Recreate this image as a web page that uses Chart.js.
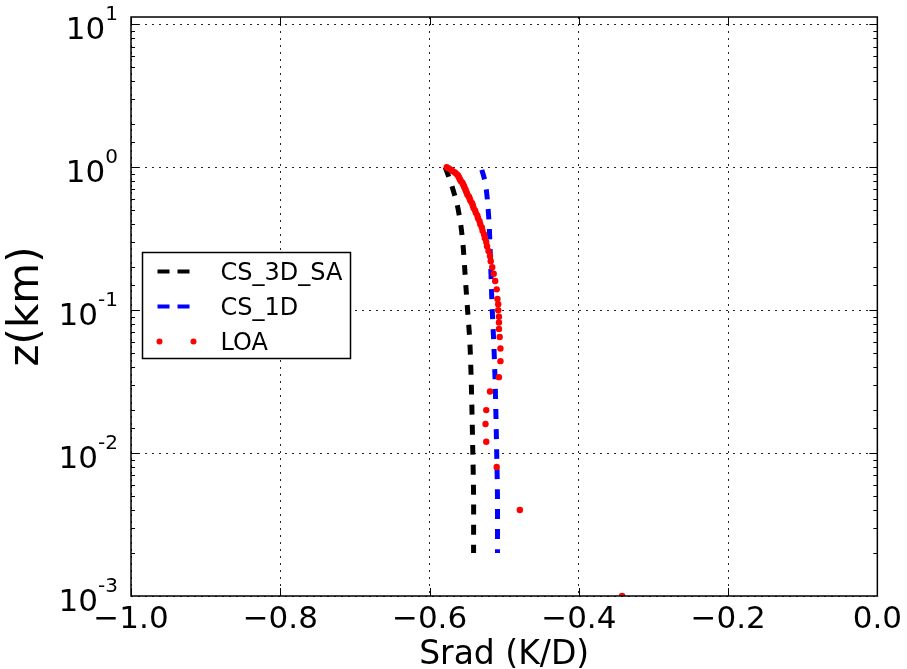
<!DOCTYPE html>
<html>
<head>
<meta charset="utf-8">
<script src="https://cdn.jsdelivr.net/npm/chart.js@4.4.0/dist/chart.umd.min.js"></script>
<style>
  html, body { margin: 0; padding: 0; background: #fff; }
  #wrap { width: 907px; height: 669px; }
</style>
</head>
<body>
<div id="wrap"><canvas id="srad" width="907" height="669"></canvas></div>
<script>
// heights (km) and Srad (K/D)
const zSA    = [1.00, 0.85, 0.71, 0.55, 0.39, 0.28, 0.20, 0.14, 0.10, 0.06, 0.03, 0.01, 0.005, 0.002];
const sradSA = [-0.579, -0.574, -0.569, -0.563, -0.558, -0.555, -0.553, -0.551, -0.549, -0.546, -0.544, -0.542, -0.541, -0.541];

const z1D    = [0.96, 0.85, 0.70, 0.55, 0.39, 0.28, 0.20, 0.14, 0.10, 0.06, 0.03, 0.01, 0.005, 0.002];
const srad1D = [-0.530, -0.527, -0.524, -0.522, -0.520, -0.519, -0.518, -0.517, -0.516, -0.514, -0.512, -0.510, -0.509, -0.509];

const zLOA = [1.00, 0.98, 0.96, 0.94, 0.92, 0.90, 0.88, 0.86, 0.84, 0.82,
              0.80, 0.78, 0.76, 0.74, 0.72, 0.70, 0.68, 0.66, 0.64, 0.62,
              0.60, 0.58, 0.56, 0.54, 0.52, 0.50, 0.48, 0.46, 0.44, 0.42,
              0.40, 0.38, 0.36, 0.34, 0.32, 0.30, 0.28, 0.26, 0.24, 0.22,
              0.20, 0.18, 0.16, 0.14, 0.12, 0.11, 0.10, 0.09, 0.082, 0.074,
              0.065, 0.054, 0.044, 0.034, 0.027, 0.020, 0.016, 0.012, 0.008, 0.004, 0.001];
const sradLOA = [-0.577, -0.574, -0.571, -0.569, -0.566, -0.564, -0.562, -0.561, -0.560, -0.559,
                 -0.558, -0.556, -0.555, -0.554, -0.553, -0.552, -0.551, -0.550, -0.549, -0.547,
                 -0.546, -0.545, -0.543, -0.542, -0.541, -0.539, -0.538, -0.536, -0.535, -0.533,
                 -0.532, -0.530, -0.529, -0.527, -0.526, -0.524, -0.523, -0.521, -0.519, -0.518,
                 -0.516, -0.514, -0.512, -0.510, -0.509, -0.508, -0.508, -0.507, -0.507, -0.507,
                 -0.506, -0.505, -0.505, -0.507, -0.519, -0.524, -0.525, -0.524, -0.510, -0.479, -0.342];

const xTicks = [-1.0, -0.8, -0.6, -0.4, -0.2, 0.0];
const yDecades = [-3, -2, -1, 0, 1];

const FONT = '"DejaVu Sans", sans-serif';
Chart.defaults.font.family = FONT;
Chart.defaults.color = '#000';

const toPoints = (xs, zs) => xs.map((v, i) => ({x: v, y: zs[i]}));
const isDecade = v => {
  const l = Math.log10(v);
  return Math.abs(l - Math.round(l)) < 1e-9;
};
const gridColor = 'rgba(0,0,0,0.85)';

// box, inward ticks, y labels with exponents and the legend
const framePlugin = {
  id: 'frame',
  afterDraw(chart) {
    const {ctx, chartArea: a, scales: {x, y}} = chart;
    ctx.save();
    ctx.strokeStyle = '#000';
    ctx.lineWidth = 1;
    ctx.beginPath();
    y.ticks.forEach(t => {
      if (t.value <= y.min || t.value >= y.max) return;
      const p = Math.round(y.getPixelForValue(t.value)) + 0.5;
      const len = isDecade(t.value) ? 8 : 4;
      ctx.moveTo(a.left, p); ctx.lineTo(a.left + len, p);
      ctx.moveTo(a.right, p); ctx.lineTo(a.right - len, p);
    });
    x.ticks.forEach(t => {
      const p = Math.round(x.getPixelForValue(t.value)) + 0.5;
      ctx.moveTo(p, a.bottom); ctx.lineTo(p, a.bottom - 8);
      ctx.moveTo(p, a.top); ctx.lineTo(p, a.top + 8);
    });
    ctx.stroke();
    ctx.lineWidth = 1.5;
    ctx.strokeRect(a.left, a.top, a.right - a.left, a.bottom - a.top);

    // y tick labels 10^n
    ctx.fillStyle = '#000';
    ctx.textBaseline = 'alphabetic';
    ctx.textAlign = 'left';
    yDecades.forEach(e => {
      const p = y.getPixelForValue(Math.pow(10, e));
      const sup = e < 0 ? '-' + (-e) : String(e);
      ctx.font = '31px ' + FONT;
      const wb = ctx.measureText('10').width;
      ctx.font = '20px ' + FONT;
      const ws = ctx.measureText(sup).width;
      const x0 = a.left - 13 - wb - ws;
      ctx.font = '31px ' + FONT;
      ctx.fillText('10', x0, p + 15);
      ctx.font = '20px ' + FONT;
      ctx.fillText(sup, x0 + wb, p - 4);
    });

    // legend
    const lx = a.left + 11.5, ly = a.top + 235.5;
    ctx.fillStyle = '#fff';
    ctx.fillRect(lx, ly, 208, 106);
    ctx.lineWidth = 1.5;
    ctx.strokeStyle = '#000';
    ctx.strokeRect(lx, ly, 208, 106);
    ctx.font = '24px ' + FONT;
    chart.data.datasets.forEach((ds, i) => {
      const cy = ly + 19 + i * 35;
      if (ds.showLine) {
        ctx.strokeStyle = ds.borderColor;
        ctx.lineWidth = 4;
        ctx.setLineDash([12, 8]);
        ctx.beginPath();
        ctx.moveTo(lx + 15, cy); ctx.lineTo(lx + 48, cy);
        ctx.stroke();
        ctx.setLineDash([]);
      } else {
        ctx.fillStyle = ds.pointBackgroundColor;
        [lx + 17, lx + 51].forEach(px => {
          ctx.beginPath(); ctx.arc(px, cy, 3, 0, Math.PI * 2); ctx.fill();
        });
      }
      ctx.fillStyle = '#000';
      ctx.fillText(ds.label, lx + 78, cy + 8.5);
    });
    ctx.restore();
  }
};

new Chart(document.getElementById('srad'), {
  type: 'scatter',
  data: {
    datasets: [
      {label: 'CS_3D_SA', data: toPoints(sradSA, zSA), showLine: true, borderColor: '#000000',
       borderWidth: 5, borderDash: [10, 10], pointRadius: 0, tension: 0.3, order: 2},
      {label: 'CS_1D', data: toPoints(srad1D, z1D), showLine: true, borderColor: '#0000ff',
       borderWidth: 5, borderDash: [10, 10], pointRadius: 0, tension: 0.3, order: 1},
      {label: 'LOA', data: toPoints(sradLOA, zLOA), showLine: false, pointRadius: 3.2,
       pointBorderWidth: 0, pointBackgroundColor: '#ff0000', borderColor: '#ff0000', clip: 0, order: 0}
    ]
  },
  options: {
    responsive: false,
    animation: false,
    devicePixelRatio: 1,
    layout: {padding: {left: 0, right: 29, top: 17, bottom: 0}},
    plugins: {legend: {display: false}, tooltip: {enabled: false}},
    scales: {
      x: {
        type: 'linear', min: -1, max: 0,
        afterBuildTicks: s => { s.ticks = xTicks.map(v => ({value: v})); },
        afterFit: s => { s.height = 73; },
        ticks: {
          font: {size: 31}, padding: 5, maxRotation: 0, autoSkip: false,
          callback: v => (v < -1e-9 ? '\u2212' + Math.abs(v).toFixed(1) : '0.0')
        },
        grid: {color: gridColor, lineWidth: 1, drawTicks: false},
        border: {display: false, dash: [2, 5]},
        title: {display: true, text: 'Srad (K/D)', font: {size: 33, lineHeight: 0.8}, padding: 0}
      },
      y: {
        type: 'logarithmic', min: 0.001, max: 11.27,
        afterFit: s => { s.width = 131; },
        ticks: {display: false},
        grid: {
          color: c => (c.tick && isDecade(c.tick.value) ? gridColor : 'rgba(0,0,0,0)'),
          lineWidth: 1, drawTicks: false
        },
        border: {display: false, dash: [2, 5]},
        title: {display: true, text: 'z(km)', font: {size: 42}, padding: {top: 2, bottom: 0}}
      }
    }
  },
  plugins: [framePlugin]
});
</script>
</body>
</html>
